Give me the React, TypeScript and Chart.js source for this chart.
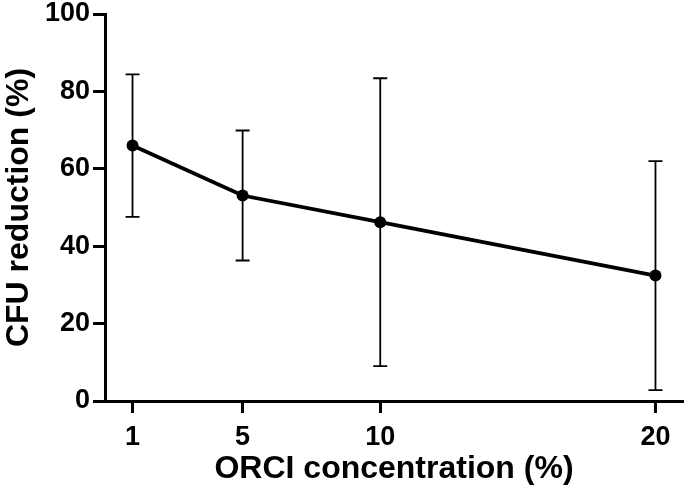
import React, { useEffect, useRef } from "react";
import { Chart, registerables } from "chart.js";

Chart.register(...registerables);

const concentrations = [1, 5, 10, 20];
const meanReduction = [66.0, 53.1, 46.2, 32.4];
const sdReduction = [18.4, 16.8, 37.2, 29.6];
const xTicks = [1, 5, 10, 20];
const yTicks = [0, 20, 40, 60, 80, 100];

const FONT = "'Liberation Sans', Arial, Helvetica, sans-serif";

const errorBarPlugin = {
  id: "errorBars",
  beforeDatasetsDraw(chart: any) {
    const ctx = chart.ctx;
    const xs = chart.scales.x;
    const ys = chart.scales.y;
    ctx.save();
    ctx.strokeStyle = "#000";
    ctx.lineWidth = 1.8;
    ctx.lineCap = "butt";
    for (let i = 0; i < concentrations.length; i++) {
      const x = xs.getPixelForValue(concentrations[i]);
      const yTop = ys.getPixelForValue(meanReduction[i] + sdReduction[i]);
      const yBot = ys.getPixelForValue(meanReduction[i] - sdReduction[i]);
      const half = 7;
      ctx.beginPath();
      ctx.moveTo(x, yTop);
      ctx.lineTo(x, yBot);
      ctx.moveTo(x - half, yTop);
      ctx.lineTo(x + half, yTop);
      ctx.moveTo(x - half, yBot);
      ctx.lineTo(x + half, yBot);
      ctx.stroke();
    }
    ctx.restore();
  },
};

export default function App() {
  const ref = useRef<HTMLCanvasElement | null>(null);
  useEffect(() => {
    if (!ref.current) return;
    const chart = new Chart(ref.current, {
      type: "line",
      data: {
        datasets: [
          {
            data: concentrations.map((c, i) => ({ x: c, y: meanReduction[i] })),
            borderColor: "#000",
            backgroundColor: "#000",
            borderWidth: 3.8,
            pointRadius: 6,
            pointBackgroundColor: "#000",
            pointBorderColor: "#000",
            pointBorderWidth: 0,
            tension: 0,
          },
        ],
      },
      options: {
        responsive: false,
        animation: false,
        layout: { padding: { left: 0, top: 0, right: 2, bottom: 0 } },
        plugins: {
          legend: { display: false },
          tooltip: { enabled: false },
        },
        scales: {
          x: {
            type: "linear",
            min: 0,
            max: 21,
            afterBuildTicks: (scale: any) => {
              scale.ticks = xTicks.map((v) => ({ value: v }));
            },
            afterFit: (scale: any) => {
              scale.height = 92;
              scale.paddingLeft = 0;
              scale.paddingRight = 0;
            },
            border: { display: true, color: "#000", width: 3 },
            grid: {
              display: true,
              drawOnChartArea: false,
              drawTicks: true,
              tickLength: 12,
              tickWidth: 3,
              tickColor: "#000",
            },
            ticks: {
              color: "#000",
              padding: 8,
              font: { family: FONT, size: 27, weight: "bold" },
              callback: (v: any) => String(v),
            },
            title: {
              display: true,
              text: "ORCI concentration (%)",
              color: "#000",
              font: { family: FONT, size: 32, weight: "bold", lineHeight: 1.2 },
              padding: { top: 0, bottom: 5 },
            },
          },
          y: {
            type: "linear",
            min: 0,
            max: 100,
            afterBuildTicks: (scale: any) => {
              scale.ticks = yTicks.map((v) => ({ value: v }));
            },
            afterFit: (scale: any) => {
              scale.width = 105;
              scale.paddingTop = 14;
              scale.paddingBottom = 0;
            },
            border: { display: true, color: "#000", width: 3 },
            grid: {
              display: true,
              drawOnChartArea: false,
              drawTicks: true,
              tickLength: 12,
              tickWidth: 3,
              tickColor: "#000",
            },
            ticks: {
              color: "#000",
              padding: 3,
              font: { family: FONT, size: 27, weight: "bold" },
            },
            title: {
              display: true,
              text: "CFU reduction (%)",
              color: "#000",
              font: { family: FONT, size: 32, weight: "bold", lineHeight: 1.2 },
              padding: { top: 0, bottom: 0 },
            },
          },
        },
      },
      plugins: [errorBarPlugin],
    } as any);
    return () => chart.destroy();
  }, []);
  return (
    <div style={{ position: "fixed", left: 0, top: 0, width: 689, height: 493, background: "#fff" }}>
      <canvas ref={ref} width={689} height={493} style={{ display: "block" }} />
    </div>
  );
}
